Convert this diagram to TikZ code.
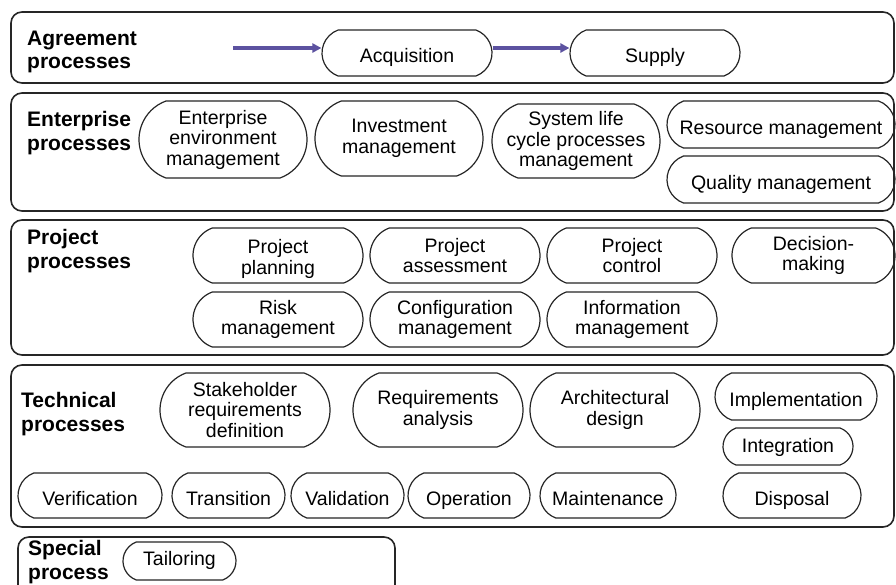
\documentclass[tikz,border=0pt]{standalone}
\usepackage{fontspec}
\setmainfont{Liberation Sans}
\usetikzlibrary{arrows.meta,shapes.misc}

\definecolor{flowpurple}{RGB}{92,82,160}

\begin{document}
\begin{tikzpicture}[
  x=1pt, y=-1pt,
  >={Triangle[length=9pt,width=9pt]},
  panel/.style={draw=black!85, line width=1.6pt, rounded corners=11pt},
  grp/.style={anchor=west, align=left, inner sep=0pt,
              font=\bfseries\fontsize{21}{23.5}\selectfont},
  proc/.style={draw=black!85, line width=1.2pt, rounded rectangle,
               rounded rectangle arc length=140, inner sep=0pt,
               align=center, font=\fontsize{19.5}{20.5}\selectfont},
  oneline/.style={proc, text height=20pt, text depth=1pt},
  flow/.style={->, flowpurple, line width=3.5pt},
]
% Coordinate system: pixels, origin top left, y downwards
\useasboundingbox (0,0) rectangle (896,584);
\fill[white] (0,0) rectangle (896,584);

% --- Group panels ---
\draw[panel] (11,12)  rectangle (894,83);
\draw[panel] (11,93)  rectangle (894,211);
\draw[panel] (11,220) rectangle (894,355);
\draw[panel] (11,365) rectangle (894,527);
\draw[panel] (18,537) rectangle (395,610);

% --- Group labels ---
\node[grp] (agrlbl) at (27,52)  {Agreement\\processes};
\node[grp] (entlbl) at (27,133) {Enterprise\\processes};
\node[grp] (prjlbl) at (27,251) {Project\\processes};
\node[grp] (teclbl) at (21,414) {Technical\\processes};
\node[grp] (spclbl) at (28,562) {Special\\process};

% --- Agreement processes ---
\node[oneline, minimum width=170, minimum height=46] (acq) at (407,53)  {Acquisition};
\node[oneline, minimum width=170, minimum height=46] (sup) at (655,53)  {Supply};
\coordinate (src) at (233,48);

\draw[flow] (src) -- ([yshift=5pt]acq.west);
\draw[flow] ([yshift=5pt]acq.east) -- ([yshift=5pt]sup.west);

% --- Enterprise processes ---
\node[proc, minimum width=168, minimum height=77] (envm) at (223,139.5) {Enterprise\\environment\\management};
\node[proc, minimum width=168, minimum height=75] (invm) at (399,138.5) {Investment\\management};
\node[proc, minimum width=168, minimum height=74] (slcm) at (576,141)   {System life\\cycle processes\\management};
\node[oneline, minimum width=228, minimum height=47] (resm) at (781,124.5) {Resource management};
\node[oneline, minimum width=228, minimum height=47] (qlty) at (781,179.5) {Quality management};

% --- Project processes ---
\node[proc, minimum width=170, minimum height=55, text height=42pt] (plan) at (278,255.5) {Project\\planning};
\node[proc, minimum width=170, minimum height=55] (asmt) at (455,255.5)   {Project\\assessment};
\node[proc, minimum width=170, minimum height=55] (ctrl) at (632,255.5)   {Project\\control};
\node[proc, minimum width=163, minimum height=55] (decm) at (813.5,255.5) {Decision-\\making};
\node[proc, minimum width=170, minimum height=55] (risk) at (278,319.5)   {Risk\\management};
\node[proc, minimum width=170, minimum height=55] (conf) at (455,319.5)   {Configuration\\management};
\node[proc, minimum width=170, minimum height=55] (info) at (632,319.5)   {Information\\management};

% --- Technical processes ---
\node[proc, minimum width=170, minimum height=74] (stkr) at (245,410)     {Stakeholder\\requirements\\definition};
\node[proc, minimum width=170, minimum height=74] (reqa) at (438,410)     {Requirements\\analysis};
\node[proc, minimum width=170, minimum height=74] (arch) at (615,410)     {Architectural\\design};
\node[oneline, minimum width=162, minimum height=47] (impl) at (796,396.5)   {Implementation};
\node[oneline, minimum width=130, minimum height=37, text height=16pt, text depth=5pt] (intg) at (788,446.5) {Integration};
\node[oneline, minimum width=138, minimum height=45] (disp) at (792,495.5)   {Disposal};
\node[oneline, minimum width=144, minimum height=45] (verf) at (90,495.5)    {Verification};
\node[oneline, minimum width=113, minimum height=45] (tran) at (228.5,495.5) {Transition};
\node[oneline, minimum width=113, minimum height=45] (vald) at (347.5,495.5) {Validation};
\node[oneline, minimum width=122, minimum height=45] (oper) at (469,495.5)   {Operation};
\node[oneline, minimum width=136, minimum height=45] (mant) at (608,495.5)   {Maintenance};

% --- Special process ---
\node[oneline, minimum width=113, minimum height=38, text height=14pt, text depth=6pt] (tail) at (179.5,561) {Tailoring};

\end{tikzpicture}
\end{document}
